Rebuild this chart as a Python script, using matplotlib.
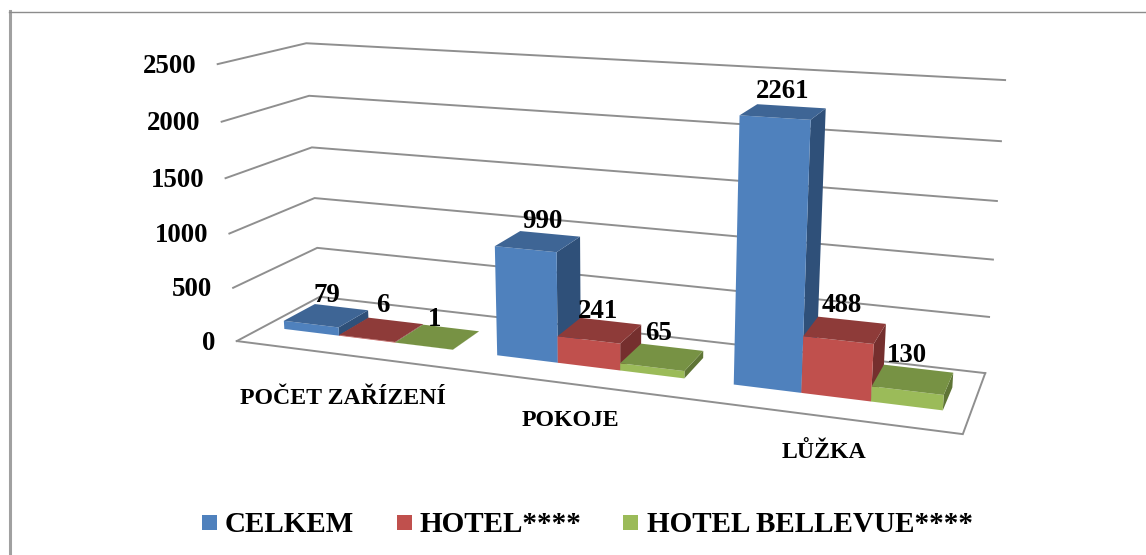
import numpy as np
import matplotlib
matplotlib.use('Agg')
import matplotlib.pyplot as plt
from matplotlib.patches import Rectangle

plt.rcParams['font.family'] = ['Liberation Serif', 'DejaVu Serif']
plt.rcParams['font.weight'] = 'bold'

# data
categories = ['POČET ZAŘÍZENÍ', 'POKOJE', 'LŮŽKA']
series = ['CELKEM', 'HOTEL****', 'HOTEL BELLEVUE****']
celkem = [79, 990, 2261]
hotel = [6, 241, 488]
bellevue = [1, 65, 130]
yticks = [0, 500, 1000, 1500, 2000, 2500]

# colours per series: front, top, side
colors = [('#4F81BD', '#3E6595', '#2F5079'),
          ('#C0504D', '#8E3B39', '#752F2E'),
          ('#9BBB59', '#779244', '#5F7536')]

# box corners on the picture (x along categories, d into depth, z value) -> pixel
anchors = [
    (0, 0, 0, 237, 341), (0, 1, 0, 320, 297), (1, 1, 0, 985, 373), (1, 0, 0, 963, 434),
    (0, 0, 2500, 218, 64.5), (0, 1, 2500, 306, 43), (1, 1, 2500, 1005, 80),
    (0, 0, 500, 233, 288), (0, 1, 500, 317, 248), (1, 1, 500, 989, 317),
    (0, 0, 1000, 229, 233), (0, 1, 1000, 315, 198), (1, 1, 1000, 993, 260),
    (0, 0, 1500, 225, 178), (0, 1, 1500, 312, 147), (1, 1, 1500, 997, 201),
    (0, 0, 2000, 222, 122), (0, 1, 2000, 309, 96), (1, 1, 2000, 1001, 141),
]
A = []
b = []
for x, d, z, u, v in anchors:
    z = z / 2500
    A.append([x, d, z, 1, 0, 0, 0, 0, -u * x, -u * d, -u * z])
    A.append([0, 0, 0, 0, x, d, z, 1, -v * x, -v * d, -v * z])
    b += [u, v]
P = np.append(np.linalg.lstsq(np.array(A, float), np.array(b, float), rcond=None)[0], 1).reshape(3, 4)


def proj(x, d, z):
    p = P @ np.array([x, d, z / 2500, 1])
    return p[0] / p[2], p[1] / p[2]


fig = plt.figure(figsize=(11.46, 5.55), dpi=100)
ax = fig.add_axes([0, 0, 1, 1])
ax.set_xlim(0, 1146)
ax.set_ylim(555, 0)
ax.axis('off')

# frame of the chart, only left and top are in the picture
ax.plot([9.8, 9.8], [11, 555], color='#a0a0a0', lw=2.2, zorder=1)
ax.plot([8.5, 1146], [11.5, 11.5], color='#8c8c8c', lw=1, zorder=1)

grid = '#8f8f8f'
for t in yticks:
    pts = [proj(0, 0, t), proj(0, 1, t), proj(1, 1, t)]
    ax.plot(*zip(*pts), color=grid, lw=1.4, solid_joinstyle='miter', zorder=2)
    fx, fy = proj(0, 0, t)
    ax.text(fx - 21, fy + 2, str(t), ha='right', va='center', fontsize=19.4, color='black', zorder=5)
# floor edges
ax.plot(*zip(proj(0, 0, 0), proj(1, 0, 0), proj(1, 1, 0)), color=grid, lw=1.4, solid_joinstyle='miter', zorder=2)

bar_w = 1 / 11.25
d0, d1 = 0.31, 0.69
values = [celkem, hotel, bellevue]
for c in range(3):
    for s in (0, 1, 2):
        x0 = (c * 3.75 + 0.375 + s) * bar_w
        x1 = x0 + bar_w
        h = values[s][c]
        front, top, side = colors[s]
        ax.fill(*zip(proj(x1, d0, 0), proj(x1, d1, 0), proj(x1, d1, h), proj(x1, d0, h)), color=side, lw=0, zorder=3)
        ax.fill(*zip(proj(x0, d0, 0), proj(x1, d0, 0), proj(x1, d0, h), proj(x0, d0, h)), color=front, lw=0, zorder=3)
        ax.fill(*zip(proj(x0, d0, h), proj(x1, d0, h), proj(x1, d1, h), proj(x0, d1, h)), color=top, lw=0, zorder=3)

# value labels
label_pos = [[(327, 296), (542, 222), (783, 91)],
             [(383, 305), (598, 312), (842, 306)],
             [(435, 319), (659, 334), (907, 356)]]
for s in range(3):
    for c in range(3):
        ax.text(*label_pos[s][c], str(values[s][c]), ha='center', va='center', fontsize=19.4, color='black', zorder=5)

# category labels
cat_pos = [(343, 398), (570, 421), (824, 452)]
for name, pos in zip(categories, cat_pos):
    ax.text(*pos, name, ha='center', va='center', fontsize=17.2, color='black', zorder=5)

# legend
leg_sq = [202, 397, 623]
leg_tx = [225, 419, 647]
for s in range(3):
    ax.add_patch(Rectangle((leg_sq[s], 515), 15, 15, color=colors[s][0], lw=0))
    ax.text(leg_tx[s], 525, series[s], ha='left', va='center', fontsize=21, color='black')

fig.savefig('out.png', dpi=100)
